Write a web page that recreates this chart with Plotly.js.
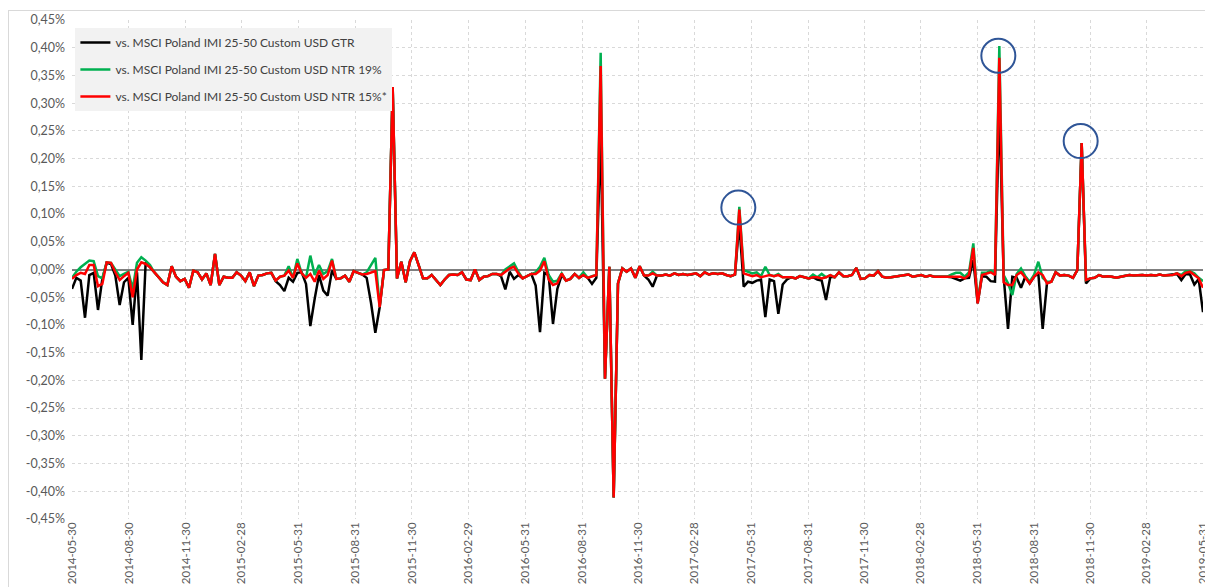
<!DOCTYPE html>
<html>
<head>
<meta charset="utf-8">
<script src="https://cdn.plot.ly/plotly-3.0.1.min.js"></script>
<style>
html,body{margin:0;padding:0;background:#fff;}
#frame{position:absolute;left:8px;top:10px;width:1400px;height:800px;border:1px solid #d9d9d9;}
#chart{position:absolute;left:0;top:0;width:1205px;height:587px;}
</style>
</head>
<body>
<div id="frame"></div>
<div id="chart"></div>
<script>
// Weekly observations starting 2014-05-30 (262 weeks)
const startDate = '2014-05-30';
const nWeeks = 262;

const tickDates = ['2014-05-30','2014-08-30','2014-11-30','2015-02-28','2015-05-31','2015-08-31','2015-11-30','2016-02-29','2016-05-31','2016-08-31','2016-11-30','2017-02-28','2017-05-31','2017-08-31','2017-11-30','2018-02-28','2018-05-31','2018-08-31','2018-11-30','2019-02-28','2019-05-31'];
const yTickVals = [0.45,0.40,0.35,0.30,0.25,0.20,0.15,0.10,0.05,0,-0.05,-0.10,-0.15,-0.20,-0.25,-0.30,-0.35,-0.40,-0.45];
const yTickText = ['0,45%','0,40%','0,35%','0,30%','0,25%','0,20%','0,15%','0,10%','0,05%','0,00%','-0,05%','-0,10%','-0,15%','-0,20%','-0,25%','-0,30%','-0,35%','-0,40%','-0,45%'];

const seriesNames = ['vs. MSCI Poland IMI 25-50 Custom USD GTR','vs. MSCI Poland IMI 25-50 Custom USD NTR 19%','vs. MSCI Poland IMI 25-50 Custom USD NTR 15%*'];

// values in %
const gtr = [
-0.035,-0.015,-0.020,-0.087,-0.010,-0.006,-0.073,-0.017,0.012,0.010,
-0.011,-0.064,-0.023,-0.015,-0.100,-0.005,-0.163,0.013,0.004,-0.005,
-0.013,-0.023,-0.028,0.006,-0.013,-0.021,-0.017,-0.033,-0.002,-0.005,
-0.018,-0.007,-0.028,0.028,-0.028,-0.013,-0.015,-0.015,-0.005,-0.011,
-0.021,-0.005,-0.030,-0.011,-0.010,-0.007,-0.006,-0.021,-0.028,-0.039,
-0.015,-0.022,-0.006,-0.005,-0.026,-0.102,-0.053,-0.010,-0.038,-0.047,
-0.002,-0.017,-0.016,-0.011,-0.022,-0.003,-0.006,-0.009,-0.015,-0.060,
-0.114,-0.068,-0.001,0.000,0.329,-0.016,0.014,-0.023,0.015,0.031,
0.008,-0.016,-0.016,-0.010,-0.019,-0.028,-0.018,-0.010,-0.009,-0.010,
-0.005,-0.018,-0.019,0.000,-0.019,-0.013,-0.012,-0.008,-0.008,-0.012,
-0.036,-0.004,-0.017,-0.010,-0.016,-0.012,-0.008,-0.029,-0.113,-0.006,
-0.010,-0.098,-0.035,-0.010,-0.020,-0.017,-0.008,-0.015,-0.010,-0.015,
-0.026,-0.015,0.250,-0.197,0.005,-0.411,-0.025,0.002,-0.004,0.002,
-0.015,0.006,-0.011,-0.018,-0.031,-0.011,-0.011,-0.009,-0.011,-0.007,
-0.010,-0.008,-0.010,-0.009,-0.007,-0.012,-0.005,-0.009,-0.007,-0.008,
-0.007,-0.010,-0.012,-0.009,0.085,-0.031,-0.022,-0.024,-0.020,-0.018,
-0.086,-0.018,-0.021,-0.080,-0.027,-0.018,-0.014,-0.016,-0.012,-0.014,
-0.016,-0.014,-0.018,-0.020,-0.055,-0.013,-0.014,-0.005,-0.012,-0.012,
-0.010,0.003,-0.017,-0.016,-0.010,-0.011,-0.003,-0.013,-0.015,-0.014,
-0.013,-0.012,-0.011,-0.009,-0.013,-0.011,-0.010,-0.013,-0.011,-0.013,
-0.013,-0.012,-0.013,-0.014,-0.017,-0.020,-0.016,-0.015,0.017,-0.061,
-0.012,-0.013,-0.021,-0.022,0.300,-0.013,-0.107,-0.013,-0.015,-0.033,
-0.013,-0.025,-0.013,-0.007,-0.107,-0.024,-0.022,-0.005,-0.011,-0.010,
-0.011,-0.015,-0.001,0.228,-0.025,-0.016,-0.015,-0.010,-0.013,-0.012,
-0.013,-0.015,-0.013,-0.012,-0.010,-0.011,-0.010,-0.010,-0.011,-0.010,
-0.011,-0.009,-0.011,-0.010,-0.010,-0.008,-0.019,-0.008,-0.009,-0.027,
-0.017,-0.077];

const ntr19 = [
-0.015,-0.004,0.004,0.010,0.016,0.015,-0.012,-0.016,0.013,0.012,
0.000,-0.012,-0.008,-0.004,-0.035,0.012,0.022,0.016,0.008,-0.005,
-0.013,-0.023,-0.028,0.006,-0.013,-0.021,-0.017,-0.033,-0.002,-0.005,
-0.018,-0.007,-0.028,0.028,-0.028,-0.013,-0.015,-0.015,-0.005,-0.011,
-0.021,-0.005,-0.030,-0.011,-0.010,-0.007,-0.006,-0.020,-0.013,-0.011,
0.006,-0.015,0.019,-0.007,-0.015,0.025,-0.010,0.008,-0.008,-0.003,
0.019,-0.017,-0.016,-0.011,-0.022,-0.003,-0.006,-0.009,-0.005,0.008,
0.021,-0.065,-0.001,0.000,0.329,-0.016,0.014,-0.023,0.015,0.031,
0.008,-0.016,-0.016,-0.010,-0.019,-0.028,-0.018,-0.010,-0.009,-0.010,
-0.005,-0.018,-0.019,0.000,-0.019,-0.013,-0.012,-0.008,-0.008,-0.010,
0.000,0.006,0.011,-0.004,-0.016,-0.012,-0.008,-0.005,0.005,0.021,
-0.010,-0.022,-0.020,-0.007,-0.020,-0.017,-0.008,-0.015,-0.005,-0.015,
-0.012,-0.010,0.391,-0.197,0.005,-0.411,-0.025,0.002,-0.004,0.002,
-0.015,0.006,-0.011,-0.011,-0.004,-0.011,-0.011,-0.009,-0.011,-0.007,
-0.010,-0.008,-0.010,-0.009,-0.007,-0.012,-0.005,-0.009,-0.007,-0.008,
-0.007,-0.010,-0.012,-0.009,0.113,-0.001,-0.004,-0.007,-0.005,-0.012,
0.005,-0.010,-0.012,-0.008,-0.014,-0.014,-0.014,-0.016,-0.012,-0.014,
-0.016,-0.009,-0.014,-0.008,-0.014,-0.010,-0.014,-0.005,-0.012,-0.012,
-0.010,0.003,-0.017,-0.016,-0.010,-0.011,-0.003,-0.013,-0.015,-0.014,
-0.013,-0.012,-0.011,-0.009,-0.013,-0.011,-0.010,-0.013,-0.011,-0.013,
-0.013,-0.012,-0.013,-0.009,-0.006,-0.006,-0.013,-0.005,0.047,-0.058,
-0.006,-0.006,-0.002,-0.006,0.403,-0.010,-0.025,-0.046,-0.008,0.002,
-0.012,-0.022,-0.010,0.014,-0.015,-0.022,-0.022,-0.005,-0.011,-0.010,
-0.011,-0.015,-0.001,0.228,-0.019,-0.016,-0.015,-0.010,-0.013,-0.012,
-0.013,-0.015,-0.013,-0.012,-0.010,-0.011,-0.010,-0.010,-0.011,-0.010,
-0.011,-0.009,-0.011,-0.010,-0.010,-0.007,-0.010,-0.003,-0.003,-0.007,
-0.015,-0.021];

const ntr15 = [
-0.017,-0.010,-0.006,-0.008,0.008,0.008,-0.030,-0.026,0.013,0.012,
-0.005,-0.019,-0.012,-0.006,-0.050,0.000,0.013,0.010,0.004,-0.005,
-0.013,-0.023,-0.028,0.006,-0.013,-0.021,-0.017,-0.033,-0.002,-0.005,
-0.018,-0.007,-0.028,0.028,-0.028,-0.013,-0.015,-0.015,-0.005,-0.011,
-0.021,-0.005,-0.030,-0.011,-0.010,-0.007,-0.006,-0.020,-0.013,-0.011,
-0.002,-0.015,0.011,-0.007,-0.015,-0.008,-0.022,-0.002,-0.017,-0.010,
0.016,-0.017,-0.016,-0.011,-0.022,-0.003,-0.006,-0.009,-0.008,-0.005,
-0.003,-0.068,-0.001,0.000,0.329,-0.016,0.014,-0.023,0.015,0.031,
0.008,-0.016,-0.016,-0.010,-0.019,-0.028,-0.018,-0.010,-0.009,-0.010,
-0.005,-0.018,-0.019,0.000,-0.019,-0.013,-0.012,-0.008,-0.008,-0.010,
-0.004,0.002,0.005,-0.007,-0.016,-0.012,-0.008,-0.008,-0.002,0.015,
-0.018,-0.028,-0.025,-0.007,-0.020,-0.017,-0.008,-0.015,-0.010,-0.015,
-0.012,-0.010,0.367,-0.197,0.005,-0.411,-0.025,0.002,-0.004,0.002,
-0.015,0.006,-0.011,-0.011,-0.007,-0.011,-0.011,-0.009,-0.011,-0.007,
-0.010,-0.008,-0.010,-0.009,-0.007,-0.012,-0.005,-0.009,-0.007,-0.008,
-0.007,-0.010,-0.012,-0.009,0.108,-0.007,-0.010,-0.012,-0.010,-0.014,
-0.012,-0.010,-0.012,-0.010,-0.014,-0.014,-0.014,-0.016,-0.012,-0.014,
-0.016,-0.014,-0.014,-0.016,-0.014,-0.010,-0.014,-0.005,-0.012,-0.012,
-0.010,0.003,-0.017,-0.016,-0.010,-0.011,-0.003,-0.013,-0.015,-0.014,
-0.013,-0.012,-0.011,-0.009,-0.013,-0.011,-0.010,-0.013,-0.011,-0.013,
-0.013,-0.012,-0.013,-0.013,-0.012,-0.013,-0.016,-0.010,0.039,-0.061,
-0.010,-0.008,-0.005,-0.010,0.382,-0.023,-0.028,-0.028,-0.010,-0.005,
-0.014,-0.025,-0.013,-0.005,-0.010,-0.025,-0.022,-0.005,-0.011,-0.010,
-0.011,-0.015,-0.001,0.228,-0.019,-0.016,-0.015,-0.010,-0.013,-0.012,
-0.013,-0.015,-0.013,-0.012,-0.010,-0.011,-0.010,-0.010,-0.011,-0.010,
-0.011,-0.009,-0.011,-0.010,-0.010,-0.007,-0.012,-0.006,-0.004,-0.010,
-0.016,-0.033];

// indices of the highlighted peaks (circled in the source)
const circledIdx = [154, 214, 233];

const dates = [];
{
  const d0 = new Date(startDate + 'T00:00:00Z');
  for (let i = 0; i < nWeeks; i++) {
    const d = new Date(d0.getTime() + i * 7 * 86400000);
    dates.push(d.toISOString().slice(0, 10));
  }
}

const colors = ['#000000', '#00b050', '#ff0000'];
const ys = [gtr, ntr19, ntr15];
const traces = ys.map((y, k) => ({
  type: 'scatter', mode: 'lines', x: dates, y: y, name: seriesNames[k],
  legendgroup: 'g' + k,
  line: {color: colors[k], width: 2.5},
  hoverinfo: 'skip'
}));

const shapes = circledIdx.map(i => ({
  type: 'circle', xref: 'x', yref: 'y',
  xsizemode: 'pixel', ysizemode: 'pixel',
  xanchor: dates[i], yanchor: ntr15[i],
  x0: -18, x1: 16, y0: -15, y1: 19,
  line: {color: '#2f5597', width: 2}
}));

const layout = {
  width: 1205, height: 587,
  margin: {l: 72, r: 2, t: 20, b: 68},
  paper_bgcolor: 'rgba(0,0,0,0)',
  plot_bgcolor: 'rgba(0,0,0,0)',
  font: {family: 'Lato, "Open Sans", sans-serif', size: 12, color: '#595959'},
  showlegend: true,
  legend: {
    x: 0.003, y: 0.984, xanchor: 'left', yanchor: 'top',
    bgcolor: '#f2f2f2', borderwidth: 0,
    font: {family: 'Lato, sans-serif', size: 12, color: '#404040'},
    tracegroupgap: 8
  },
  xaxis: {
    type: 'date',
    range: [tickDates[0], tickDates[tickDates.length - 1]],
    tickmode: 'array', tickvals: tickDates, ticktext: tickDates,
    tickangle: -90,
    ticklabeloverflow: 'allow',
    tickfont: {size: 11.5, color: '#595959'},
    showgrid: true, gridcolor: '#d9d9d9', griddash: '3px,3px', gridwidth: 1,
    zeroline: false, showline: false, ticks: '',
    fixedrange: true
  },
  yaxis: {
    range: [-0.45, 0.45],
    tickmode: 'array', tickvals: yTickVals, ticktext: yTickText,
    tickfont: {size: 12.5, color: '#595959'},
    showgrid: true, gridcolor: '#d9d9d9', griddash: '3px,3px', gridwidth: 1,
    zeroline: true, zerolinecolor: '#7f7f7f', zerolinewidth: 2,
    showline: false, ticks: '', ticklabelstandoff: 6,
    fixedrange: true
  },
  shapes: shapes
};

Plotly.newPlot('chart', traces, layout, {displayModeBar: false, staticPlot: true});
</script>
</body>
</html>
